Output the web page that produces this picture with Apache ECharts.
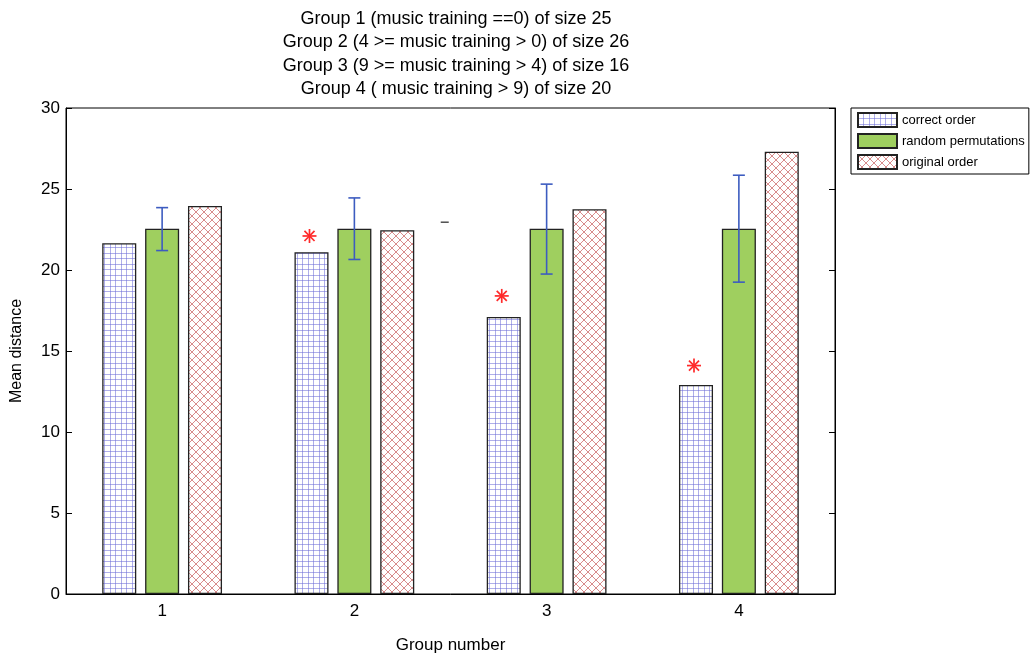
<!DOCTYPE html>
<html><head><meta charset="utf-8">
<script src="https://cdn.jsdelivr.net/npm/echarts@6/dist/echarts.min.js"></script>
<style>html,body{margin:0;padding:0;background:#fff}#c{width:1033px;height:657px}</style>
</head><body><div id="c"></div>
<script>
// ---- data ----
const categories = ['1', '2', '3', '4'];
const correctOrder = [21.65, 21.1, 17.1, 12.9];
const randomPerm = [22.55, 22.55, 22.55, 22.55];
const originalOrder = [23.95, 22.45, 23.75, 27.3];
const errLow = [21.2, 20.65, 19.75, 19.25];
const errHigh = [23.85, 24.45, 25.3, 25.85];
const starValues = [null, 22.1, 18.4, 14.1];
const strayDash = [[2.47, 22.95]];
const titleLines = [
  'Group 1 (music training ==0) of size 25',
  'Group 2 (4 >= music training > 0) of size 26',
  'Group 3 (9 >= music training > 4) of size 16',
  'Group 4 ( music training > 9) of size 20'
];

function gridPattern() {
  const c = document.createElement('canvas'); c.width = 11; c.height = 11;
  const g = c.getContext('2d');
  g.fillStyle = '#fff'; g.fillRect(0, 0, 11, 11);
  g.fillStyle = 'rgba(110,110,215,0.55)';
  g.fillRect(0, 0, 1, 11); g.fillRect(5, 0, 1, 11);
  g.fillRect(0, 0, 11, 1); g.fillRect(0, 5, 11, 1);
  return c;
}
function crossPattern() {
  const c = document.createElement('canvas'); c.width = 8; c.height = 8;
  const g = c.getContext('2d');
  g.fillStyle = '#fff'; g.fillRect(0, 0, 8, 8);
  g.strokeStyle = 'rgba(200,95,95,0.8)'; g.lineWidth = 0.9;
  g.beginPath();
  g.moveTo(0, 0); g.lineTo(8, 8);
  g.moveTo(8, 0); g.lineTo(0, 8);
  g.stroke();
  return c;
}

const BAR_FRAC = 0.177, GAP_FRAC = 0.26;
const chart = echarts.init(document.getElementById('c'));
const font = 'Liberation Sans, Arial, sans-serif';
chart.setOption({
  animation: false,
  backgroundColor: '#fff',
  textStyle: { fontFamily: font },
  title: {
    text: titleLines.join('\n'), left: 451, top: 2, textAlign: 'center',
    textStyle: { fontSize: 18, fontWeight: 'normal', color: '#000', lineHeight: 23.5, fontFamily: font }
  },
  legend: {
    orient: 'vertical', left: 851, top: 108, width: 170,
    borderColor: '#000', borderWidth: 1, padding: [4, 4, 4, 6],
    itemWidth: 39, itemHeight: 14, itemGap: 5, icon: 'rect',
    textStyle: { fontSize: 13, color: '#000', fontFamily: font },
    data: ['correct order', 'random permutations', 'original order']
  },
  grid: { left: 66, right: 198, top: 108, bottom: 63, outerBoundsMode: 'none', containLabel: false,
    show: true, borderColor: '#000', borderWidth: 1, backgroundColor: 'transparent' },
  xAxis: [{
    type: 'category', data: categories,
    name: 'Group number', nameLocation: 'middle', nameGap: 43,
    nameTextStyle: { fontSize: 17, color: '#000' },
    axisLine: { lineStyle: { color: '#000', width: 1 } },
    axisTick: { inside: true, alignWithLabel: true, length: 5, lineStyle: { color: '#000' } },
    axisLabel: { fontSize: 17, color: '#000', margin: 9 }
  }, {
    type: 'value', min: 0.5, max: 4.5, show: false
  }],
  yAxis: [{
    type: 'value', min: 0, max: 30, interval: 5,
    name: 'Mean distance', nameLocation: 'middle', nameGap: 41,
    nameTextStyle: { fontSize: 16, color: '#000' },
    axisLine: { show: true, lineStyle: { color: '#000', width: 1 } },
    axisTick: { show: true, inside: true, length: 6, lineStyle: { color: '#000' } },
    axisLabel: { fontSize: 17, color: '#000', margin: 6 },
    splitLine: { show: false }
  }, {
    type: 'value', min: 0, max: 30, interval: 5, position: 'right',
    axisLine: { show: true, lineStyle: { color: '#000', width: 1 } },
    axisTick: { show: true, inside: true, length: 6, lineStyle: { color: '#000' } },
    axisLabel: { show: false }, splitLine: { show: false }
  }],
  series: [
    { name: 'correct order', type: 'bar', data: correctOrder, barWidth: (BAR_FRAC * 100) + '%', barGap: (GAP_FRAC * 100) + '%',
      itemStyle: { color: { image: gridPattern(), repeat: 'repeat' }, borderColor: '#222', borderWidth: 1.3 } },
    { name: 'random permutations', type: 'bar', data: randomPerm, barWidth: (BAR_FRAC * 100) + '%', barGap: (GAP_FRAC * 100) + '%',
      itemStyle: { color: '#9fcf5f', borderColor: '#222', borderWidth: 1.3 } },
    { name: 'original order', type: 'bar', data: originalOrder, barWidth: (BAR_FRAC * 100) + '%', barGap: (GAP_FRAC * 100) + '%',
      itemStyle: { color: { image: crossPattern(), repeat: 'repeat' }, borderColor: '#222', borderWidth: 1.3 } },
    { type: 'custom', z: 10,
      data: categories.map((c, i) => [i, errLow[i], errHigh[i]]),
      renderItem: function (params, api) {
        const x = api.coord([api.value(0), 0])[0];
        const lo = api.coord([api.value(0), api.value(1)])[1];
        const hi = api.coord([api.value(0), api.value(2)])[1];
        const hw = 6;
        const st = { stroke: '#3d5cc0', lineWidth: 1.6 };
        return { type: 'group', children: [
          { type: 'line', shape: { x1: x, y1: lo, x2: x, y2: hi }, style: st },
          { type: 'line', shape: { x1: x - hw, y1: lo, x2: x + hw, y2: lo }, style: st },
          { type: 'line', shape: { x1: x - hw, y1: hi, x2: x + hw, y2: hi }, style: st }
        ] };
      }
    },
    { type: 'custom', z: 11,
      data: starValues.map((v, i) => v == null ? [i, '-'] : [i, v]),
      renderItem: function (params, api) {
        const v = api.value(1);
        if (isNaN(v)) return null;
        const band = api.size([1, 0])[0];
        const bw = band * BAR_FRAC;
        const p = api.coord([api.value(0), v]);
        const x = p[0] - bw * (1 + GAP_FRAC) - 2, y = p[1];
        const r = 7, d = r * 0.72;
        const st = { stroke: '#ff2a2a', lineWidth: 1.7 };
        return { type: 'group', children: [
          { type: 'line', shape: { x1: x, y1: y - r, x2: x, y2: y + r }, style: st },
          { type: 'line', shape: { x1: x - r, y1: y, x2: x + r, y2: y }, style: st },
          { type: 'line', shape: { x1: x - d, y1: y - d, x2: x + d, y2: y + d }, style: st },
          { type: 'line', shape: { x1: x - d, y1: y + d, x2: x + d, y2: y - d }, style: st }
        ] };
      }
    },
    { type: 'scatter', xAxisIndex: 1, data: strayDash, symbol: 'rect', symbolSize: [8, 1.5],
      itemStyle: { color: '#222' }, silent: true }
  ]
});
</script></body></html>
